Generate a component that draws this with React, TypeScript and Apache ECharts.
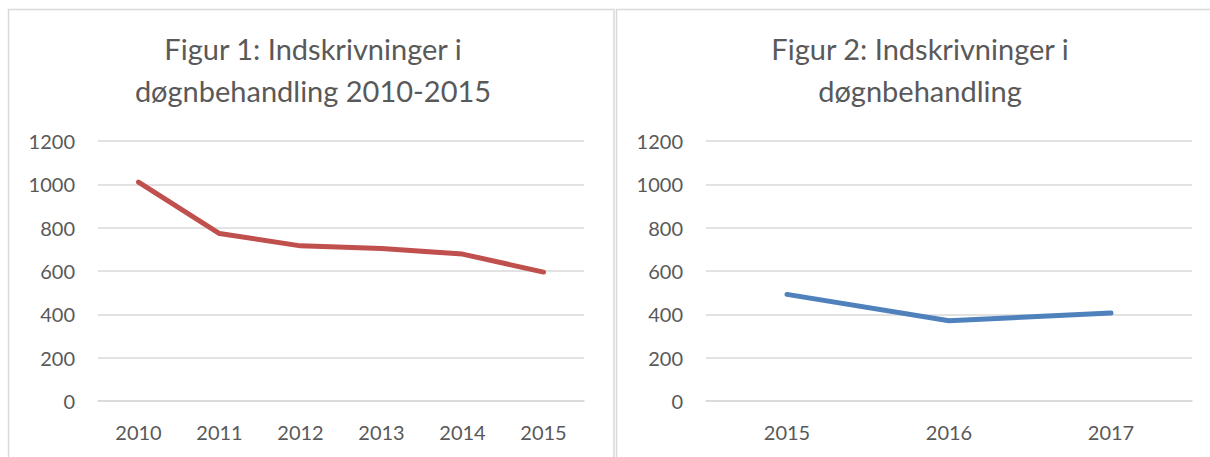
import React, { useEffect, useRef } from "react";
import * as echarts from "echarts";

const years1 = ["2010", "2011", "2012", "2013", "2014", "2015"];
const values1 = [1010, 773, 716, 704, 678, 595];
const years2 = ["2015", "2016", "2017"];
const values2 = [492, 370, 406];
const title1 = "Figur 1: Indskrivninger i\ndøgnbehandling 2010-2015";
const title2 = "Figur 2: Indskrivninger i\ndøgnbehandling";
const yMin = 0;
const yMax = 1200;
const yStep = 200;

const FONT = "Lato";
const TXT = "#595959";
const GRID = "#d9d9d9";

export default function App() {
  const ref = useRef<HTMLDivElement>(null);
  useEffect(() => {
    if (!ref.current) return;
    const chart = echarts.init(ref.current, null, { renderer: "svg" });
    const yAxisBase = (gridIndex: number) => ({
      type: "value" as const,
      gridIndex,
      min: yMin,
      max: yMax,
      interval: yStep,
      axisLine: { show: false },
      axisTick: { show: false },
      axisLabel: {
        color: TXT,
        fontFamily: FONT,
        fontSize: 20,
        margin: 23,
        formatter: (v: number) => String(v),
      },
      splitLine: { lineStyle: { color: GRID, width: 1.5 } },
    });
    const xAxisBase = (gridIndex: number, data: string[]) => ({
      type: "category" as const,
      gridIndex,
      data,
      boundaryGap: true,
      axisLine: { show: true, lineStyle: { color: GRID, width: 1.5 } },
      axisTick: { show: false },
      axisLabel: { color: TXT, fontFamily: FONT, fontSize: 20, margin: 21 },
    });
    const lineSeries = (idx: number, data: number[], color: string) => ({
      type: "line" as const,
      xAxisIndex: idx,
      yAxisIndex: idx,
      data,
      symbol: "none",
      lineStyle: { color, width: 5, cap: "round", join: "round" },
    });
    const titleStyle = {
      color: TXT,
      fontFamily: FONT,
      fontSize: 29,
      fontWeight: "normal",
      lineHeight: 42,
    };
    chart.setOption({
      animation: false,
      backgroundColor: "#ffffff",
      title: [
        { text: title1, left: 313, top: 27, padding: 0, textAlign: "center", textStyle: titleStyle },
        { text: title2, left: 920, top: 27, padding: 0, textAlign: "center", textStyle: titleStyle },
      ],
      graphic: [
        {
          type: "rect",
          shape: { x: 8.5, y: 9.5, width: 605.5, height: 470 },
          style: { fill: "none", stroke: GRID, lineWidth: 1.5 },
          silent: true,
        },
        {
          type: "rect",
          shape: { x: 616.5, y: 9.5, width: 620, height: 470 },
          style: { fill: "none", stroke: GRID, lineWidth: 1.5 },
          silent: true,
        },
      ],
      grid: [
        { left: 98, right: 626, top: 141, bottom: 56 },
        { left: 706, right: 18, top: 141, bottom: 56 },
      ],
      xAxis: [xAxisBase(0, years1), xAxisBase(1, years2)],
      yAxis: [yAxisBase(0), yAxisBase(1)],
      series: [lineSeries(0, values1, "#c0504d"), lineSeries(1, values2, "#4f81bd")],
    });
    return () => chart.dispose();
  }, []);
  return (
    <div
      ref={ref}
      style={{ position: "fixed", left: 0, top: 0, width: 1210, height: 457 }}
    />
  );
}
